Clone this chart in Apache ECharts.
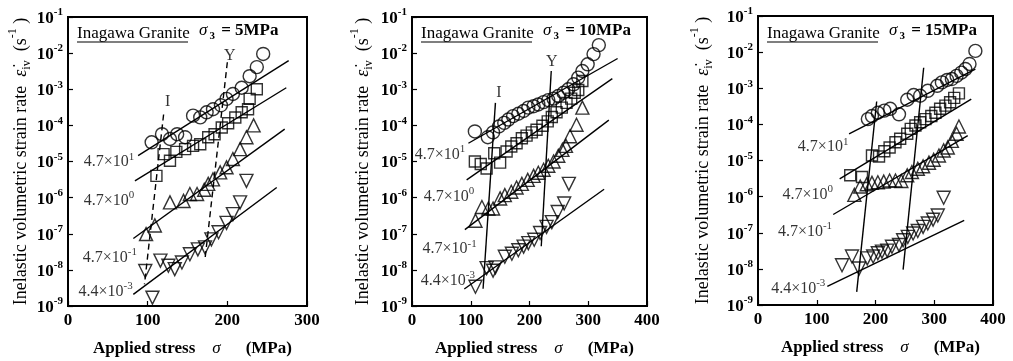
<!DOCTYPE html>
<html><head><meta charset="utf-8">
<script src="https://cdn.jsdelivr.net/npm/echarts@6/dist/echarts.min.js"></script>
<style>html,body{margin:0;padding:0;background:#fff}#c{width:1013px;height:361px}</style>
</head><body><div id="c"></div>
<script>
const FONT = '"Liberation Serif","Times New Roman",serif';

// ---- labels / categories ----
const rateTexts = ['{n|4.7×10}{sup|1}', '{n|4.7×10}{sup|0}', '{n|4.7×10}{sup|-1}', '{n|4.4×10}{sup|-3}'];
const pressures = ['5MPa', '10MPa', '15MPa'];
const xMaxes = [300, 400, 400];
const yMin = 1e-9, yMax = 1e-1;

// ---- Panel 1 (σ3 = 5 MPa): [stress MPa, strain rate 1/s] ----
const p1Circle = [[105,3.4e-5],[118,5.7e-5],[128,4.2e-5],[137,5.7e-5],[147,4.7e-5],[157,1.86e-4],[166,1.67e-4],[174,2.3e-4],[182,2.8e-4],[192,3.6e-4],[199,5.4e-4],[207,7.4e-4],[218,1.1e-3],[228,2.3e-3],[237,4.1e-3],[245,9.5e-3]];
const p1Square = [[111,4.0e-6],[120,1.6e-5],[128,1.05e-5],[136,1.85e-5],[147,2.2e-5],[157,2.7e-5],[166,3.0e-5],[176,4.7e-5],[184,5.7e-5],[193,8.7e-5],[201,1.15e-4],[210,1.65e-4],[218,2.3e-4],[226,2.8e-4],[228,5.4e-4],[237,1.0e-3]];
const p1TriUp = [[98,9.8e-8],[109,1.7e-7],[128,7.4e-7],[145,8.1e-7],[153,1.26e-6],[162,1.26e-6],[171,1.65e-6],[176,2.4e-6],[182,3.2e-6],[191,5.0e-6],[199,6.9e-6],[207,1.17e-5],[216,2.2e-5],[224,4.7e-5],[233,1.0e-4]];
const p1TriDown = [[97,9.3e-9],[106,1.7e-9],[116,1.8e-8],[126,1.3e-8],[134,1.05e-8],[143,1.6e-8],[153,2.7e-8],[163,3.7e-8],[172,4.2e-8],[180,7.0e-8],[189,1.1e-7],[199,2.0e-7],[207,3.5e-7],[216,7.4e-7],[224,2.9e-6]];
const p1FitCircle = [[88,1.45e-5],[277,6.2e-3]];
const p1FitSquare = [[84,2.9e-6],[274,1.1e-3]];
const p1FitTriUp = [[82,7.4e-8],[272,7.9e-5]];
const p1FitTriDown = [[82,2.1e-9],[262,1.9e-6]];
const p1LineI = [[120,2.0e-4],[96,4.0e-9]];
const p1LineY = [[200,5.6e-3],[172,2.0e-8]];
const p1RateAt = [[19,1.05e-5],[19,9.1e-7],[18,2.45e-8],[12.5,2.7e-9]];
const p1MarkAt = [[125,4.4e-4],[203,8.5e-3]];

// ---- Panel 2 (σ3 = 10 MPa) ----
const p2Circle = [[107,6.8e-5],[129,4.7e-5],[138,6.4e-5],[148,9.3e-5],[157,1.17e-4],[164,1.45e-4],[172,1.8e-4],[181,2.1e-4],[190,2.5e-4],[198,3.1e-4],[207,3.4e-4],[215,3.8e-4],[224,4.4e-4],[232,5.0e-4],[241,5.5e-4],[249,6.5e-4],[258,8.0e-4],[266,1.0e-3],[275,1.37e-3],[283,2.1e-3],[290,3.2e-3],[299,4.9e-3],[309,9.4e-3],[318,1.67e-2]];
const p2Square = [[107,1.0e-5],[117,8.5e-6],[127,6.4e-6],[140,1.7e-5],[150,9.3e-6],[161,1.9e-5],[169,2.6e-5],[178,3.2e-5],[187,4.4e-5],[195,5.2e-5],[204,6.4e-5],[212,7.6e-5],[222,9.8e-5],[231,1.29e-4],[238,1.7e-4],[246,2.3e-4],[255,3.1e-4],[263,4.2e-4],[271,5.5e-4],[277,8.0e-4],[283,9.5e-4],[290,1.7e-3]];
const p2TriUp = [[108,2.3e-7],[119,5.5e-7],[130,5.0e-7],[138,5.0e-7],[150,9.5e-7],[158,1.17e-6],[169,1.45e-6],[178,1.9e-6],[187,2.4e-6],[197,3.1e-6],[207,4.0e-6],[215,4.9e-6],[224,5.9e-6],[232,7.6e-6],[241,1.0e-5],[249,1.44e-5],[256,2.1e-5],[262,2.7e-5],[269,5.0e-5],[280,1.04e-4],[290,3.1e-4]];
const p2TriDown = [[108,3.4e-9],[127,1.12e-8],[138,9.5e-9],[142,1.17e-8],[158,2.3e-8],[170,2.8e-8],[181,3.5e-8],[190,4.4e-8],[198,5.5e-8],[208,6.8e-8],[218,1.05e-7],[229,1.55e-7],[238,2.1e-7],[248,4.0e-7],[259,6.9e-7],[267,2.4e-6]];
const p2FitCircle = [[96,3.2e-5],[350,7.1e-3]];
const p2FitSquare = [[93,3.1e-6],[341,1.96e-3]];
const p2FitTriUp = [[90,1.3e-7],[335,1.4e-4]];
const p2FitTriDown = [[89,2.95e-9],[327,1.7e-6]];
const p2LineI = [[142,4.2e-4],[121,3.0e-9]];
const p2LineY = [[237,3.2e-3],[220,4.5e-8]];
const p2RateAt = [[4,1.7e-5],[19,1.17e-6],[17,4.1e-8],[14,5.6e-9]];
const p2MarkAt = [[148,7.9e-4],[238,5.8e-3]];

// ---- Panel 3 (σ3 = 15 MPa) ----
const p3Circle = [[187,1.4e-4],[194,1.7e-4],[204,2.1e-4],[215,2.4e-4],[225,2.7e-4],[240,1.9e-4],[254,4.8e-4],[265,6.5e-4],[276,6.2e-4],[289,8.5e-4],[305,1.17e-3],[313,1.45e-3],[322,1.7e-3],[330,1.8e-3],[338,2.2e-3],[346,2.7e-3],[353,3.4e-3],[360,4.7e-3],[370,1.08e-2]];
const p3Square = [[157,3.9e-6],[177,3.5e-6],[194,1.38e-5],[206,1.29e-5],[215,1.8e-5],[224,2.3e-5],[234,3.2e-5],[242,4.0e-5],[254,5.5e-5],[260,7.5e-5],[268,9.3e-5],[276,1.15e-4],[285,1.4e-4],[295,1.7e-4],[302,2.1e-4],[310,2.7e-4],[319,3.3e-4],[327,4.1e-4],[334,5.4e-4],[342,7.2e-4]];
const p3TriUp = [[164,1.12e-6],[174,1.9e-6],[185,2.2e-6],[194,2.4e-6],[204,2.5e-6],[214,2.6e-6],[224,2.8e-6],[234,2.8e-6],[244,2.7e-6],[254,3.9e-6],[262,4.8e-6],[272,5.9e-6],[281,6.9e-6],[291,8.7e-6],[299,1.05e-5],[308,1.38e-5],[316,1.9e-5],[323,2.3e-5],[330,3.5e-5],[338,5.5e-5],[342,8.7e-5]];
const p3TriDown = [[143,1.26e-8],[160,2.2e-8],[172,1.02e-8],[186,1.95e-8],[196,2.2e-8],[204,2.7e-8],[211,3.0e-8],[220,3.2e-8],[228,4.1e-8],[240,4.6e-8],[247,6.2e-8],[255,7.7e-8],[264,9.5e-8],[272,1.12e-7],[281,1.45e-7],[289,1.8e-7],[298,2.3e-7],[306,3.0e-7],[316,9.3e-7]];
const p3FitCircle = [[155,5.5e-5],[370,3.4e-3]];
const p3FitSquare = [[139,3.1e-6],[363,5.0e-4]];
const p3FitTriUp = [[128,3.2e-7],[357,4.9e-5]];
const p3FitTriDown = [[118,3.3e-9],[351,2.2e-7]];
const p3LineI = [[202,4.3e-4],[168,2.3e-9]];
const p3LineY = [[282,3.7e-3],[247,9.5e-9]];
const p3RateAt = [[67,2.57e-5],[41,1.26e-6],[33,1.17e-7],[21.5,3.1e-9]];

// ---- layout ----
const grids = [
  {left: 68, top: 17, width: 239, height: 289, nameGap: 35},
  {left: 412, top: 17, width: 235, height: 289, nameGap: 37},
  {left: 758, top: 16, width: 235, height: 289, nameGap: 43}
];
const panels = [
  {c: p1Circle, s: p1Square, u: p1TriUp, d: p1TriDown, fits: [p1FitCircle, p1FitSquare, p1FitTriUp, p1FitTriDown], iy: [p1LineI, p1LineY], dashed: true, rateAt: p1RateAt, markAt: p1MarkAt},
  {c: p2Circle, s: p2Square, u: p2TriUp, d: p2TriDown, fits: [p2FitCircle, p2FitSquare, p2FitTriUp, p2FitTriDown], iy: [p2LineI, p2LineY], dashed: false, rateAt: p2RateAt, markAt: p2MarkAt},
  {c: p3Circle, s: p3Square, u: p3TriUp, d: p3TriDown, fits: [p3FitCircle, p3FitSquare, p3FitTriUp, p3FitTriDown], iy: [p3LineI, p3LineY], dashed: false, rateAt: p3RateAt, markAt: null}
];
const markTexts = ['I', 'Y'];

const richSmall = {
  n: {fontFamily: FONT, fontSize: 16, color: '#000', verticalAlign: 'bottom'},
  sup: {fontFamily: FONT, fontSize: 11, color: '#000', verticalAlign: 'bottom', padding: [0, 0, 8, 0]}
};

const chart = echarts.init(document.getElementById('c'), null, {renderer: 'canvas'});
const option = {animation: false, backgroundColor: '#fff', grid: [], xAxis: [], yAxis: [], series: [], graphic: []};

grids.forEach((g, i) => {
  option.grid.push({left: g.left, top: g.top, width: g.width, height: g.height, show: true,
    borderColor: '#000', borderWidth: 2, backgroundColor: 'transparent', outerBoundsMode: 'none'});
  option.xAxis.push({
    type: 'value', gridIndex: i, min: 0, max: xMaxes[i], interval: 100,
    axisLine: {show: true, onZero: false, lineStyle: {color: '#000', width: 2}},
    axisTick: {show: true, inside: true, length: 5, lineStyle: {color: '#000', width: 1.2}},
    splitLine: {show: false},
    axisLabel: {color: '#000', fontFamily: FONT, fontSize: 17, fontWeight: 'bold', margin: 6},
    name: '{b0|Applied stress}{it|σ}{bd|(MPa)}', nameLocation: 'middle', nameGap: 34,
    nameTextStyle: {color: '#000', rich: {
      b0: {fontFamily: FONT, fontSize: 17, fontWeight: 'bold', color: '#000', padding: [0, 0, 0, 10]},
      bd: {fontFamily: FONT, fontSize: 17, fontWeight: 'bold', color: '#000'},
      it: {fontFamily: FONT, fontSize: 17, fontStyle: 'italic', color: '#000', padding: [0, 25, 0, 17]}
    }}
  });
  option.yAxis.push({
    type: 'log', logBase: 10, gridIndex: i, min: yMin, max: yMax,
    axisLine: {show: true, lineStyle: {color: '#000', width: 2}},
    axisTick: {show: true, inside: true, length: 5, lineStyle: {color: '#000', width: 1.2}},
    minorTick: {show: false}, splitLine: {show: false},
    axisLabel: {margin: 5, formatter: v => '{b|10}{s|' + Math.round(Math.log10(v)) + '}',
      rich: {
        b: {fontFamily: FONT, fontSize: 17, fontWeight: 'bold', color: '#000', verticalAlign: 'bottom'},
        s: {fontFamily: FONT, fontSize: 11, fontWeight: 'bold', color: '#000', verticalAlign: 'bottom', padding: [0, 0, 9, 0]}
      }},
    name: '{n|Inelastic volumetric strain rate  }{e|ε̇}{sub|iv}{n|  (s}{sup|-1}{n| )}',
    nameLocation: 'middle', nameRotate: 90, nameGap: g.nameGap,
    nameTextStyle: {color: '#000', rich: {
      n: {fontFamily: FONT, fontSize: 18, color: '#000', verticalAlign: 'bottom', padding: [0, 0, 3, 0]},
      e: {fontFamily: FONT, fontSize: 18, fontStyle: 'italic', color: '#000', verticalAlign: 'bottom', padding: [0, 0, 3, 0]},
      sub: {fontFamily: FONT, fontSize: 12, color: '#000', verticalAlign: 'bottom'},
      sup: {fontFamily: FONT, fontSize: 12, color: '#000', verticalAlign: 'bottom', padding: [0, 0, 14, 0]}
    }}
  });

  const p = panels[i];
  const mk = (data, symbol, size, rot) => ({
    type: 'scatter', xAxisIndex: i, yAxisIndex: i, data, symbol, symbolSize: size, symbolRotate: rot || 0,
    itemStyle: {color: 'rgba(0,0,0,0)', borderColor: '#000', borderWidth: 1.4}, z: 4, silent: true
  });
  const ln = (data, dashed) => ({
    type: 'line', xAxisIndex: i, yAxisIndex: i, data, symbol: 'none', showSymbol: false, silent: true, z: 3,
    lineStyle: {color: '#000', width: 1.4, type: dashed ? [6, 4] : 'solid'}
  });
  p.fits.forEach(f => option.series.push(ln(f, false)));
  p.iy.forEach(f => option.series.push(ln(f, p.dashed)));
  option.series.push(mk(p.c, 'circle', 13));
  option.series.push(mk(p.s, 'rect', 11));
  option.series.push(mk(p.u, 'triangle', 13));
  option.series.push(mk(p.d, 'triangle', 13, 180));
  option.series.push({
    type: 'scatter', xAxisIndex: i, yAxisIndex: i, data: p.rateAt, symbolSize: 1, silent: true, z: 5,
    itemStyle: {color: 'rgba(0,0,0,0)'},
    label: {show: true, position: 'right', distance: 0, formatter: q => rateTexts[q.dataIndex], rich: richSmall}
  });
  if (p.markAt) {
    option.series.push({
      type: 'scatter', xAxisIndex: i, yAxisIndex: i, data: p.markAt, symbolSize: 1, silent: true, z: 5,
      itemStyle: {color: 'rgba(0,0,0,0)'},
      label: {show: true, position: 'inside', formatter: q => markTexts[q.dataIndex],
        fontFamily: FONT, fontSize: 16, color: '#000'}
    });
  }

  // panel heading
  const tx = g.left + 9;
  option.graphic.push({type: 'text', left: tx, top: 25, silent: true,
    style: {text: 'Inagawa Granite', font: '17px ' + FONT, fill: '#000'}});
  option.graphic.push({type: 'line', silent: true,
    shape: {x1: tx, y1: 42, x2: tx + 111, y2: 42}, style: {stroke: '#000', lineWidth: 1.2}});
  option.graphic.push({type: 'text', left: tx + 122, top: 22, silent: true,
    style: {text: '{it|σ}{sb|3}{bd| = ' + pressures[i] + '}', rich: {
      it: {fontFamily: FONT, fontSize: 17, fontStyle: 'italic', fill: '#000', verticalAlign: 'bottom', padding: [0, 0, 3, 0]},
      sb: {fontFamily: FONT, fontSize: 11, fontWeight: 'bold', fill: '#000', verticalAlign: 'bottom', padding: [0, 2, 0, 2]},
      bd: {fontFamily: FONT, fontSize: 17, fontWeight: 'bold', fill: '#000', verticalAlign: 'bottom', padding: [0, 0, 3, 0]}
    }}});
});

chart.setOption(option);
</script>
</body></html>
